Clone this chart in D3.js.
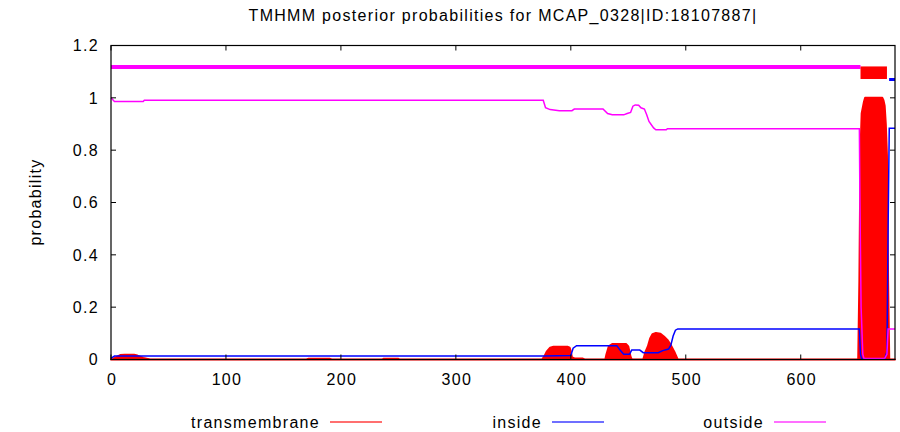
<!DOCTYPE html>
<html><head><meta charset="utf-8">
<script src="https://cdn.jsdelivr.net/npm/d3@7"></script>
<style>body{margin:0;background:#fff}svg text{font-family:"Liberation Sans",Arial,sans-serif;fill:#000}</style>
</head><body><svg id="c" width="900" height="432"></svg>
<script>
const title = "TMHMM posterior probabilities for MCAP_0328|ID:18107887|";
const xTicks = [0,100,200,300,400,500,600];
const yTicks = [0,0.2,0.4,0.6,0.8,1,1.2];
const yTickLabels = ["0","0.2","0.4","0.6","0.8","1","1.2"];
const seqLength = 682;
const legendNames = ["transmembrane","inside","outside"];
const colors = {tm:"#ff0000", inside:"#0000ff", outside:"#ff00ff"};

// topology bars [start, end, level]
const topoOutside = [[0,652,1.118]];
const topoTM = [[652,675,1.072,1.12]];
const topoInside = [[676,682,1.07]];

// transmembrane posterior [position, prob]
const tmProb = [[0,0],[2,0.002],[5,0.01],[8,0.017],[12,0.018],[20,0.018],[23,0.015],[28,0.006],[32,0.002],[34,0],
 [170,0],[172,0.003],[190,0.003],[192,0],
 [236,0],[237,0.003],[250,0.003],[251,0],
 [375,0],[377,0.012],[379,0.03],[382,0.045],[385,0.049],[397,0.049],[399,0.045],[400,0.03],[401,0.008],[403,0.005],[410,0.004],[412,0],
 [430,0],[431,0.02],[433,0.05],[436,0.059],[448,0.059],[450,0.05],[451,0.03],[452,0.01],[453,0],
 [463,0],[465,0.03],[467,0.05],[469,0.08],[471,0.097],[474,0.101],[478,0.098],[481,0.088],[484,0.075],[487,0.055],[490,0.03],[492,0.01],[493,0],
 [650,0],[651,0.3],[652,0.8],[653,0.94],[655,0.985],[656,1.0],[671,1.0],[672,0.99],[673,0.97],[674,0.9],[675,0.78],[676,0.3],[677,0],[682,0]];

// inside posterior
const insideProb = [[0,0.004],[3,0.013],[376,0.013],[400,0.015],[402,0.043],[405,0.053],[440,0.053],[443,0.035],[446,0.02],[451,0.02],[453,0.036],[460,0.036],[463,0.026],[476,0.026],[480,0.034],[485,0.04],[487,0.055],[489,0.09],[491,0.112],[493,0.117],
 [651,0.117],[652,0.02],[653,0.002],[673,0.002],[675,0.03],[676,0.5],[677,0.884],[682,0.884]];

// outside posterior
const outsideProb = [[0,1.0],[3,0.986],[28,0.986],[29,0.991],[376,0.991],[378,0.962],[382,0.955],[390,0.951],[401,0.951],[403,0.957],[428,0.957],[432,0.94],[436,0.935],[446,0.935],[449,0.94],[452,0.944],[454,0.968],[456,0.973],[459,0.972],[461,0.962],[464,0.957],[466,0.935],[468,0.91],[472,0.885],[474,0.878],[483,0.878],[484,0.882],
 [651,0.882],[651.5,0.6],[652.5,0.2],[654,0.02],[655,0.004],[673,0.004],[675,0.02],[676,0.117],[682,0.117]];

const svg = d3.select("#c");
const L=111, R=895, T=45.5, B=359.5;
const x = d3.scaleLinear().domain([0,seqLength]).range([L,R]);
const y = d3.scaleLinear().domain([0,1.2]).range([B,T]);

// TM area
const area = d3.area().x(d=>x(d[0])).y0(y(0)).y1(d=>y(d[1]));
svg.append("path").datum(tmProb).attr("d",area).attr("fill",colors.tm)
  .attr("stroke",colors.tm).attr("stroke-width",2).attr("stroke-linejoin","round");

const line = d3.line().x(d=>x(d[0])).y(d=>y(d[1]));
svg.append("path").datum(insideProb).attr("d",line).attr("fill","none").attr("stroke",colors.inside).attr("stroke-width",1.5);
svg.append("path").datum(outsideProb).attr("d",line).attr("fill","none").attr("stroke",colors.outside).attr("stroke-width",1.5);

// topology
topoOutside.forEach(d=>svg.append("line").attr("x1",x(d[0])).attr("x2",x(d[1])).attr("y1",y(d[2])).attr("y2",y(d[2])).attr("stroke",colors.outside).attr("stroke-width",4));
topoTM.forEach(d=>svg.append("rect").attr("x",x(d[0])).attr("width",x(d[1])-x(d[0])).attr("y",y(d[3])).attr("height",y(d[2])-y(d[3])).attr("fill",colors.tm));
topoInside.forEach(d=>svg.append("line").attr("x1",x(d[0])+1).attr("x2",x(d[1])).attr("y1",y(d[2])).attr("y2",y(d[2])).attr("stroke",colors.inside).attr("stroke-width",3));

// frame
svg.append("rect").attr("x",L).attr("y",T).attr("width",R-L).attr("height",B-T).attr("fill","none").attr("stroke","#000").attr("stroke-width",1.2);

// axes with inward ticks
const gx = svg.append("g");
xTicks.forEach(t=>{
  gx.append("line").attr("x1",x(t)).attr("x2",x(t)).attr("y1",B).attr("y2",B-5).attr("stroke","#000");
  gx.append("line").attr("x1",x(t)).attr("x2",x(t)).attr("y1",T).attr("y2",T+5).attr("stroke","#000");
  gx.append("text").attr("x",x(t)+1).attr("y",385).attr("text-anchor","middle").attr("font-size",16).attr("letter-spacing",1.3).text(t);
});
yTicks.forEach((t,i)=>{
  gx.append("line").attr("x1",L).attr("x2",L+5).attr("y1",y(t)).attr("y2",y(t)).attr("stroke","#000");
  gx.append("line").attr("x1",R).attr("x2",R-5).attr("y1",y(t)).attr("y2",y(t)).attr("stroke","#000");
  gx.append("text").attr("x",99).attr("y",y(t)).attr("dy","0.36em").attr("text-anchor","end").attr("font-size",16).attr("letter-spacing",1.3).text(yTickLabels[i]);
});

svg.append("text").attr("x",(L+R)/2).attr("y",21).attr("text-anchor","middle").attr("font-size",16).attr("letter-spacing",1.3).text(title);
svg.append("text").attr("transform","translate(41,202) rotate(-90)").attr("text-anchor","middle").attr("font-size",16).attr("letter-spacing",1.3).text("probability");

// legend
const legendX = [320,542,764];
const legendCol = [colors.tm,colors.inside,colors.outside];
legendNames.forEach((n,i)=>{
  svg.append("text").attr("x",legendX[i]).attr("y",428).attr("text-anchor","end").attr("font-size",16).attr("letter-spacing",1.3).text(n);
  svg.append("line").attr("x1",legendX[i]+10).attr("x2",legendX[i]+62).attr("y1",422).attr("y2",422).attr("stroke",legendCol[i]).attr("stroke-width",1.5).attr("opacity",0.75);
});
</script></body></html>
